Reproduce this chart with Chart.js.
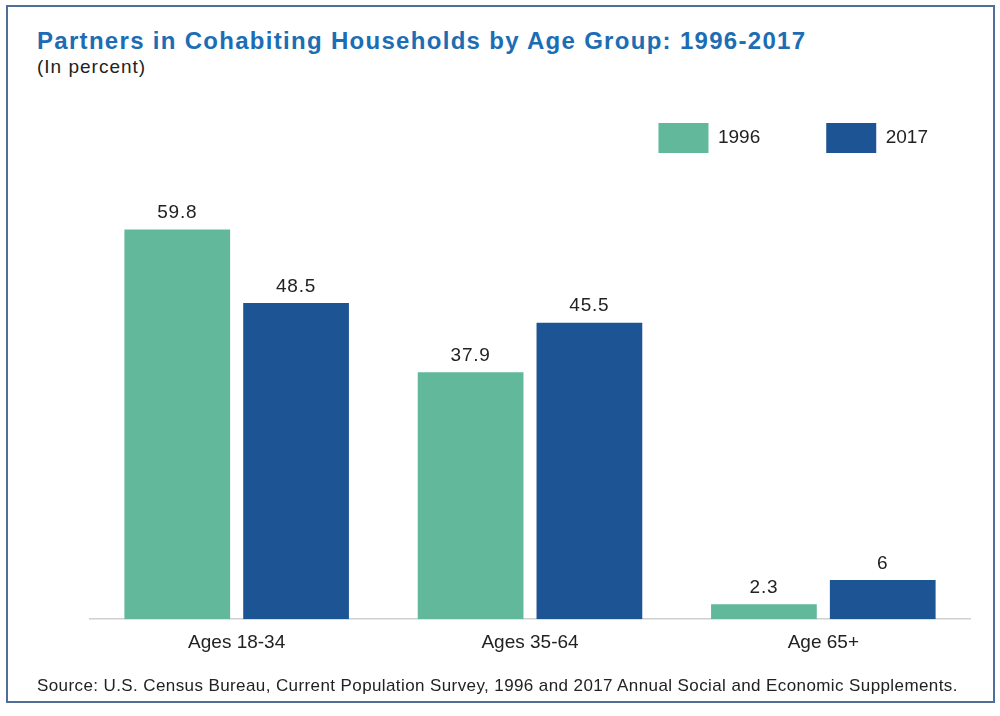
<!DOCTYPE html>
<html>
<head>
<meta charset="utf-8">
<script src="https://cdn.jsdelivr.net/npm/chart.js@4"></script>
<style>
  body { margin: 0; background: #fff; }
  #wrap { position: relative; width: 1000px; height: 716px; font-family: "Liberation Sans", Arial, sans-serif; }
  #frame { position: absolute; left: 6px; top: 5px; width: 985px; height: 694px; border: 2px solid #4f6e98; }
  #title { position: absolute; left: 37px; top: 27px; font-size: 24px; letter-spacing: 1.3px; font-weight: bold; color: #1b6db4; }
  #sub { position: absolute; left: 37px; top: 56px; font-size: 19px; letter-spacing: 1px; color: #222; }
  #source { position: absolute; left: 37px; top: 676px; font-size: 17px; letter-spacing: 0.4px; color: #222; }
  canvas { position: absolute; left: 0; top: 0; }
</style>
</head>
<body>
<div id="wrap">
  <div id="frame"></div>
  <div id="title">Partners in Cohabiting Households by Age Group: 1996-2017</div>
  <div id="sub">(In percent)</div>
  <canvas id="barCanvas" width="1000" height="716"></canvas>
  <div id="source">Source: U.S. Census Bureau, Current Population Survey, 1996 and 2017 Annual Social and Economic Supplements.</div>
</div>
<script>
const labels = ["Ages 18-34", "Ages 35-64", "Age 65+"]
const values1996 = [59.8, 37.9, 2.3]
const values2017 = [48.5, 45.5, 6]

// numbers above the bars
const valueLabels = {
    id: 'valueLabels',
    afterDatasetsDraw(chart) {
        const ctx = chart.ctx
        ctx.save()
        ctx.font = '19px "Liberation Sans", Arial, sans-serif'
        ctx.letterSpacing = '0.8px'
        ctx.fillStyle = '#222'
        ctx.textAlign = 'center'
        ctx.textBaseline = 'bottom'
        chart.data.datasets.forEach((ds, i) => {
            chart.getDatasetMeta(i).data.forEach((bar, j) => {
                ctx.fillText(ds.data[j], bar.x, bar.y - 7)
            })
        })
        ctx.restore()
    }
}

const barCanvas = document.getElementById('barCanvas')

const barChart = new Chart(barCanvas, {
    type: "bar",
    data: {
        labels: labels,
        datasets: [{
            label: "1996",
            data: values1996,
            backgroundColor: "#62b89b",
        }, {
            label: "2017",
            data: values2017,
            backgroundColor: "#1d5494",
        }]
    },
    options: {
        responsive: false,
        animation: false,
        categoryPercentage: 0.81,
        barPercentage: 0.89,
        layout: {
            padding: { top: 57, left: 90, right: 6, bottom: 50 }
        },
        plugins: {
            legend: {
                position: 'top',
                align: 'end',
                labels: {
                    boxWidth: 50,
                    boxHeight: 30,
                    padding: 66,
                    color: '#222',
                    font: { size: 19, family: '"Liberation Sans", Arial, sans-serif' }
                }
            },
            tooltip: { enabled: false }
        },
        scales: {
            x: {
                grid: { display: false, drawTicks: false },
                border: { color: '#d0d0d0', width: 1.5 },
                ticks: {
                    padding: 12,
                    color: '#222',
                    font: { size: 19, family: '"Liberation Sans", Arial, sans-serif' }
                }
            },
            y: {
                position: 'right',
                min: 0,
                max: 70,
                grid: { display: false, drawTicks: false },
                border: { display: false },
                ticks: { display: false },
                afterFit(scale) { scale.width = 24 }
            }
        }
    },
    plugins: [valueLabels]
})
</script>
</body>
</html>
